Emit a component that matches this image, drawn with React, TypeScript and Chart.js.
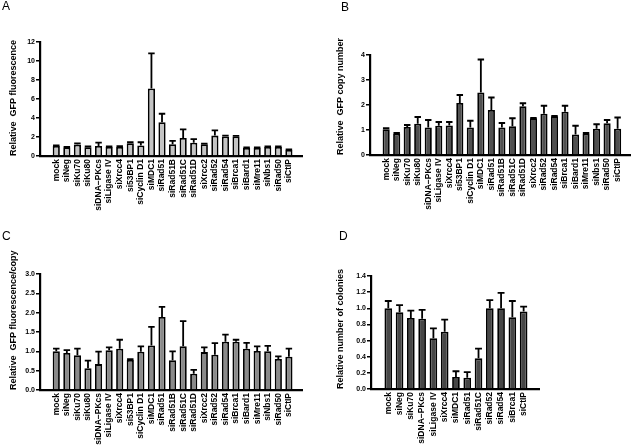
import React, { useEffect, useRef } from "react";
import { Chart, registerables } from "chart.js";

Chart.register(...registerables);

const labelsABC = [
  "mock", "siNeg", "siKu70", "siKu80", "siDNA−PKcs", "siLigase IV", "siXrcc4", "si53BP1",
  "siCyclin D1", "siMDC1", "siRad51", "siRad51B", "siRad51C", "siRad51D", "siXrcc2", "siRad52",
  "siRad54", "siBrca1", "siBard1", "siMre11", "siNbs1", "siRad50", "siCtIP",
];
const labelsD = [
  "mock", "siNeg", "siKu70", "siDNA−PKcs", "siLigase IV", "siXrcc4", "siMDC1", "siRad51",
  "siRad51C", "siRad52", "siRad54", "siBrca1", "siCtIP",
];

const valuesA = [1.05, 0.9, 1.2, 0.92, 1.05, 0.95, 0.95, 1.35, 1.1, 7.1, 3.55, 1.25, 1.9, 1.4, 1.25, 2.15, 2.05, 2.05, 0.85, 0.85, 0.95, 0.95, 0.65];
const errorsA = [0.07, 0.05, 0.12, 0.08, 0.35, 0.05, 0.1, 0.1, 0.35, 3.7, 0.9, 0.35, 0.9, 0.38, 0.05, 0.55, 0.1, 0.07, 0.05, 0.05, 0.05, 0.05, 0.05];

const valuesB = [1.03, 0.85, 1.12, 1.25, 1.1, 1.17, 1.18, 2.08, 1.1, 2.5, 1.8, 1.1, 1.15, 1.95, 1.47, 1.65, 1.55, 1.73, 0.82, 0.85, 1.05, 1.27, 1.05];
const errorsB = [0.04, 0.03, 0.08, 0.27, 0.3, 0.15, 0.14, 0.32, 0.27, 1.32, 0.5, 0.18, 0.32, 0.12, 0.01, 0.32, 0.01, 0.24, 0.35, 0.03, 0.18, 0.13, 0.45];

const valuesC = [1.0, 0.96, 0.9, 0.56, 0.67, 1.03, 1.07, 0.78, 0.99, 1.15, 1.89, 0.77, 1.13, 0.42, 0.98, 0.91, 1.25, 1.25, 1.07, 1.01, 1.0, 0.8, 0.86];
const errorsC = [0.07, 0.07, 0.17, 0.2, 0.32, 0.07, 0.23, 0.02, 0.14, 0.48, 0.26, 0.23, 0.65, 0.1, 0.12, 0.3, 0.18, 0.05, 0.15, 0.12, 0.14, 0.07, 0.21];

const valuesD = [1.0, 0.95, 0.88, 0.87, 0.63, 0.71, 0.15, 0.14, 0.38, 1.0, 1.0, 0.89, 0.96];
const errorsD = [0.09, 0.09, 0.09, 0.11, 0.12, 0.15, 0.07, 0.07, 0.12, 0.1, 0.19, 0.2, 0.06];

const titleA = "Relative  GFP fluorescence";
const titleB = "Relative  GFP copy number";
const titleC = "Relative  GFP fluorescence/copy";
const titleD = "Relative number of colonies";

const FONT = "'Liberation Sans', Arial, Helvetica, sans-serif";

const errBarsPlugin = {
  id: "errbars",
  afterDatasetsDraw(chart: any, _args: any, opts: any) {
    const errors: number[] = opts && opts.errors;
    if (!errors) return;
    const meta = chart.getDatasetMeta(0);
    const ys = chart.scales.y;
    const ctx = chart.ctx;
    const vals = chart.data.datasets[0].data;
    ctx.save();
    ctx.strokeStyle = "#000";
    ctx.lineWidth = 1.8;
    meta.data.forEach((bar: any, i: number) => {
      const v = vals[i].y;
      const e = errors[i];
      const y0 = ys.getPixelForValue(v);
      const y1 = ys.getPixelForValue(v + e);
      const half = (bar.width || 8) * 0.45;
      ctx.beginPath();
      ctx.moveTo(bar.x, y0);
      ctx.lineTo(bar.x, y1);
      ctx.moveTo(bar.x - half, y1);
      ctx.lineTo(bar.x + half, y1);
      ctx.stroke();
    });
    ctx.restore();
  },
};

type PanelProps = {
  left: number; top: number; width: number; height: number;
  labels: string[]; values: number[]; errors: number[];
  color: string; title: string;
  yMax: number; yStep: number; decimals: number;
  areaLeft: number; areaTop: number; areaRight: number; areaBottom: number;
  xMin: number; xMax: number; titleCenter: number;
};

function Panel(p: PanelProps) {
  const ref = useRef<HTMLCanvasElement | null>(null);
  useEffect(() => {
    if (!ref.current) return;
    const titleSize = 9;
    const chart = new Chart(ref.current, {
      type: "bar",
      data: {
        datasets: [
          {
            data: p.labels.map((_, i) => ({ x: i, y: p.values[i] })),
            backgroundColor: p.color,
            borderColor: "#000",
            borderWidth: 1.8,
            barPercentage: 0.68,
            categoryPercentage: 1,
          } as any,
        ],
      },
      options: {
        responsive: false,
        animation: false,
        layout: { padding: { left: 0, top: p.areaTop, right: p.width - p.areaRight, bottom: 0 } },
        plugins: {
          legend: { display: false },
          tooltip: { enabled: false },
          errbars: { errors: p.errors },
        } as any,
        scales: {
          x: {
            type: "linear",
            min: p.xMin,
            max: p.xMax,
            grid: { display: false, drawTicks: false },
            border: { display: true, color: "#000", width: 2.2 },
            afterBuildTicks: (scale: any) => {
              scale.ticks = p.labels.map((_, i) => ({ value: i }));
            },
            afterFit: (scale: any) => {
              scale.height = p.height - p.areaBottom;
            },
            ticks: {
              autoSkip: false,
              minRotation: 90,
              maxRotation: 90,
              padding: 3,
              color: "#000",
              font: { family: FONT, size: 8.5, weight: "bold" },
              callback: (v: any) => p.labels[v as number] ?? "",
            },
          },
          y: {
            min: 0,
            max: p.yMax,
            grid: { display: true, drawOnChartArea: false, drawTicks: true, tickLength: 4, color: "#000", lineWidth: 1.5 },
            border: { display: true, color: "#000", width: 2.2 },
            afterFit: (scale: any) => {
              scale.width = p.areaLeft;
            },
            ticks: {
              stepSize: p.yStep,
              padding: 1,
              color: "#000",
              font: { family: FONT, size: 7, weight: "bold" },
              callback: (v: any) => Number(v).toFixed(p.decimals),
            },
            title: {
              display: true,
              text: p.title,
              align: "start",
              color: "#000",
              font: { family: FONT, size: titleSize, weight: "bold" },
              padding: { top: p.titleCenter - (titleSize * 1.2) / 2, bottom: 0 },
            },
          },
        },
      } as any,
      plugins: [errBarsPlugin],
    });
    return () => chart.destroy();
  }, []);
  return (
    <canvas
      ref={ref}
      width={p.width}
      height={p.height}
      style={{ position: "absolute", left: p.left, top: p.top, width: p.width, height: p.height }}
    />
  );
}

const letterStyle: React.CSSProperties = {
  position: "absolute",
  fontFamily: FONT,
  fontSize: 12,
  lineHeight: "12px",
  color: "#000",
};

export default function App() {
  useEffect(() => {
    document.body.style.margin = "0";
  }, []);
  return (
    <div style={{ position: "fixed", left: 0, top: 0, width: 633, height: 448, background: "#fff", overflow: "hidden" }}>
      <Panel left={0} top={0} width={316} height={224} labels={labelsABC} values={valuesA} errors={errorsA}
        color="#c4c4c4" title={titleA} yMax={12} yStep={2} decimals={0}
        areaLeft={40} areaTop={42} areaRight={302} areaBottom={156} xMin={-1.0} xMax={22.7} titleCenter={14} />
      <Panel left={316} top={0} width={317} height={224} labels={labelsABC} values={valuesB} errors={errorsB}
        color="#505050" title={titleB} yMax={4} yStep={1} decimals={0}
        areaLeft={54} areaTop={55} areaRight={314} areaBottom={155} xMin={-1.0} xMax={22.64} titleCenter={25} />
      <Panel left={0} top={224} width={316} height={224} labels={labelsABC} values={valuesC} errors={errorsC}
        color="#8a8a8a" title={titleC} yMax={3} yStep={0.5} decimals={1}
        areaLeft={40} areaTop={50} areaRight={302} areaBottom={166} xMin={-1.0} xMax={22.7} titleCenter={14} />
      <Panel left={316} top={224} width={317} height={224} labels={labelsD} values={valuesD} errors={errorsD}
        color="#474747" title={titleD} yMax={1.4} yStep={0.2} decimals={1}
        areaLeft={55} areaTop={52} areaRight={223} areaBottom={165} xMin={-0.96} xMax={12.79} titleCenter={25} />
      <div style={{ ...letterStyle, left: 2, top: 0 }}>A</div>
      <div style={{ ...letterStyle, left: 341, top: 1 }}>B</div>
      <div style={{ ...letterStyle, left: 2, top: 230 }}>C</div>
      <div style={{ ...letterStyle, left: 339, top: 230 }}>D</div>
    </div>
  );
}
